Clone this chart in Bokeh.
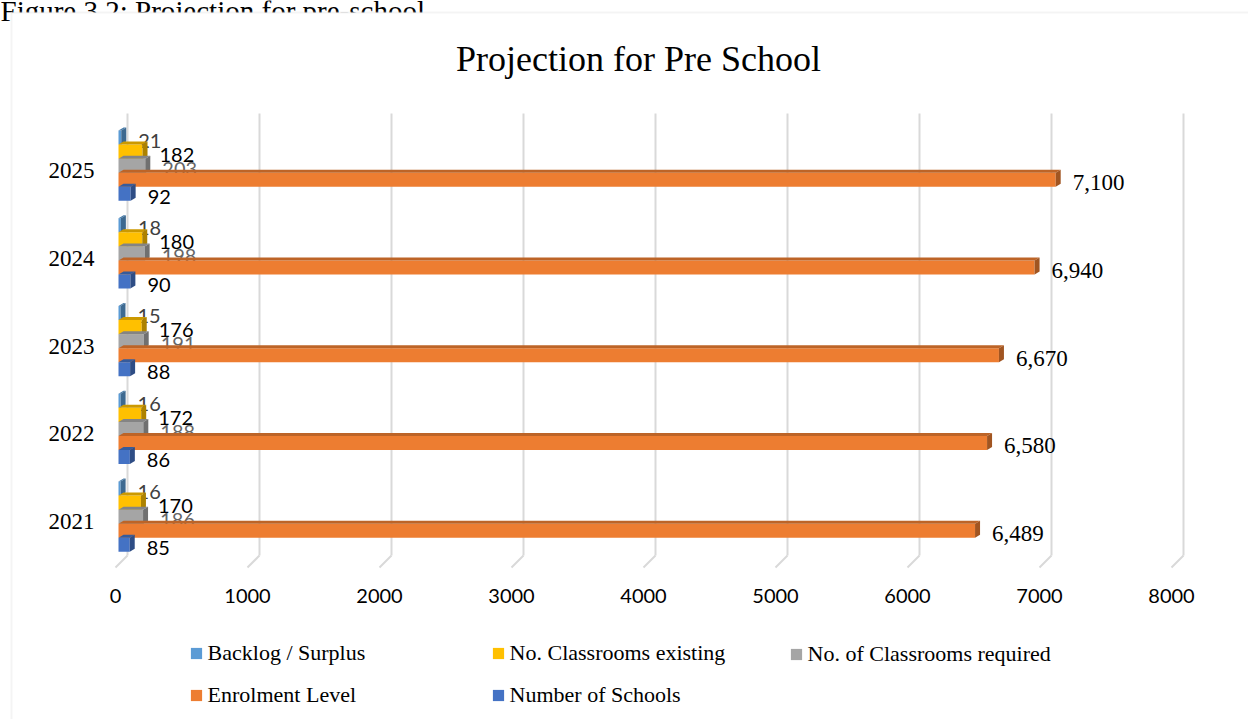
from bokeh.plotting import figure
from bokeh.models import (Range1d, LinearAxis, FixedTicker, ColumnDataSource, Legend,
                          LegendItem, Label, BoxAnnotation)
from bokeh.core.properties import value
from bokeh.embed import file_html
from bokeh.resources import INLINE

# ---------------- data ----------------
years = ["2021", "2022", "2023", "2024", "2025"]
backlog_surplus = [16, 16, 15, 18, 21]
classrooms_existing = [170, 172, 176, 180, 182]
classrooms_required = [186, 188, 191, 198, 203]
enrolment_level = [6489, 6580, 6670, 6940, 7100]
number_of_schools = [85, 86, 88, 90, 92]
x_ticks = [0, 1000, 2000, 3000, 4000, 5000, 6000, 7000, 8000]

# ---------------- geometry ----------------
W, H = 1248, 719
PX_X = 0.132      # px per unit on the value axis
PX_Y = 87.75      # px per category
BAR0_PX, FRONT0_PX, BACK0_PX = 118, 115, 127
CAT0_PX = 521     # pixel row of first category centre


def ypx(py):
    """canvas pixel row -> category-axis coordinate"""
    return (CAT0_PX - py) / PX_Y


def sy(py):
    """canvas pixel row -> screen units (from bottom of frame)"""
    return H - py


span = W / PX_X
p = figure(width=W, height=H, output_backend="svg", toolbar_location=None,
           x_range=Range1d(-BAR0_PX / PX_X, -BAR0_PX / PX_X + span),
           y_range=Range1d(ypx(H), ypx(0)),
           x_axis_location=None, y_axis_location=None,
           min_border=0, min_border_left=0, min_border_right=0,
           min_border_top=0, min_border_bottom=0)
p.title.visible = False
p.outline_line_color = None
p.background_fill_color = "white"
p.border_fill_color = "white"
p.xgrid.visible = False
p.ygrid.visible = False
p.extra_x_ranges = {"front": Range1d(-FRONT0_PX / PX_X, -FRONT0_PX / PX_X + span),
                    "back": Range1d(-BACK0_PX / PX_X, -BACK0_PX / PX_X + span)}

# caption (cut by top of page) and chart border
p.add_layout(Label(x=0, y=sy(10.7), x_units="screen", y_units="screen",
                   text="Figure 3.2: Projection for pre-school", text_font="Liberation Serif",
                   text_font_size="29px", text_color="black", text_baseline="alphabetic",
                   level="underlay"))
p.add_layout(BoxAnnotation(left=11, right=W + 20, top=sy(12), bottom=-40,
                           left_units="screen", right_units="screen",
                           top_units="screen", bottom_units="screen",
                           fill_color="white", fill_alpha=1, line_color="#D9D9D9",
                           line_width=2, level="underlay"))

# title
p.add_layout(Label(x=638, y=sy(58), x_units="screen", y_units="screen",
                   text="Projection for Pre School", text_font="Liberation Serif",
                   text_font_size="36px", text_color="black", text_align="center",
                   text_baseline="middle"))

# back wall gridlines + floor slants
WALL_TOP, WALL_BOT, FLOOR = ypx(113), ypx(555), ypx(567)
grid_c = "#D9D9D9"
n = len(x_ticks)
p.segment(x0=x_ticks, y0=[WALL_BOT] * n, x1=x_ticks, y1=[WALL_TOP] * n,
          x_range_name="back", line_color=grid_c, line_width=2)
p.segment(x0=x_ticks, y0=[WALL_BOT] * n,
          x1=[t - (BACK0_PX - FRONT0_PX) / PX_X for t in x_ticks], y1=[FLOOR] * n,
          x_range_name="back", line_color=grid_c, line_width=2)


def shade(hx, f):
    return "#%02x%02x%02x" % tuple(int(int(hx[i:i + 2], 16) * f) for i in (1, 3, 5))


idx = list(range(len(years)))
BAR_H = 0.16
DX = 5 / PX_X
DY = 3 / PX_Y

# drawn from top of each cluster down (lower bars overlap upper ones)
series = [
    ("Backlog / Surplus", backlog_surplus, "#5B9BD5", 0.375, "Lato", "20px", "#404040", False),
    ("No. Classrooms existing", classrooms_existing, "#FFC000", 0.215, "Lato", "20px", "#000000", False),
    ("No. of Classrooms required", classrooms_required, "#A5A5A5", 0.055, "Lato", "20px", "#666666", False),
    ("Enrolment Level", enrolment_level, "#ED7D31", -0.105, "Liberation Serif", "23px", "#000000", True),
    ("Number of Schools", number_of_schools, "#4472C4", -0.265, "Lato", "20px", "#000000", False),
]

renderers = {}
for name, vals, color, off, font, fsize, lcolor, comma in series:
    ys = [i + off for i in idx]
    src = ColumnDataSource(dict(y=ys, v=vals))
    r = p.hbar(y="y", right="v", left=0, height=BAR_H, source=src,
               fill_color=color, line_color=None)
    renderers[name] = r
    top_xs, top_ys, side_xs, side_ys = [], [], [], []
    for v, c in zip(vals, ys):
        lo, hi = c - BAR_H / 2, c + BAR_H / 2
        top_xs.append([0, v, v + DX, DX])
        top_ys.append([hi, hi, hi + DY, hi + DY])
        side_xs.append([v, v + DX, v + DX, v])
        side_ys.append([lo, lo + DY, hi + DY, hi])
    p.patches(xs=top_xs, ys=top_ys, fill_color=shade(color, 0.8), line_color=None)
    p.patches(xs=side_xs, ys=side_ys, fill_color=shade(color, 0.68), line_color=None)
    labels = [f"{v:,}" if comma else str(v) for v in vals]
    p.text(x=vals, y=ys, text=labels, x_offset=17, y_offset=3,
           text_font=value(font), text_font_size=fsize, text_color=lcolor,
           text_align="left", text_baseline="middle")

# axes (fixed inside the full-canvas frame)
xaxis = LinearAxis(x_range_name="front", ticker=FixedTicker(ticks=x_ticks),
                   fixed_location=ypx(580))
yaxis = LinearAxis(ticker=FixedTicker(ticks=idx),
                   major_label_overrides={i: y for i, y in zip(idx, years)},
                   fixed_location=(100 - BAR0_PX) / PX_X)
for ax in (xaxis, yaxis):
    ax.axis_line_color = None
    ax.major_tick_line_color = None
    ax.minor_tick_line_color = None
    ax.major_tick_out = 0
    ax.major_tick_in = 0
    ax.major_label_text_color = "#000000"
xaxis.major_label_text_font = "Lato"
xaxis.major_label_text_font_size = "20px"
xaxis.major_label_standoff = 8
yaxis.major_label_text_font = "Liberation Serif"
yaxis.major_label_text_font_size = "23px"
yaxis.major_label_standoff = 6
p.add_layout(xaxis, "below")
p.add_layout(yaxis, "left")

# legend: three columns
leg_cols = [
    (["Backlog / Surplus", "Enrolment Level"], 190),
    (["No. Classrooms existing", "Number of Schools"], 492),
    (["No. of Classrooms required"], 790),
]
ITEM_H = 25
ROW1_Y = 654
ROW_PITCH = 41
GLYPH = 14
for names, xpx in leg_cols:
    items = [LegendItem(label=nm, renderers=[renderers[nm]]) for nm in names]
    bottom_px = ROW1_Y + (len(names) - 1) * ROW_PITCH + ITEM_H / 2
    leg = Legend(items=items, location=(xpx - 0.1 * GLYPH, sy(bottom_px)),
                 glyph_width=GLYPH, glyph_height=GLYPH, label_standoff=5,
                 label_text_font="Liberation Serif", label_text_font_size="22px",
                 label_text_color="#000000", label_height=ITEM_H,
                 spacing=ROW_PITCH - ITEM_H, padding=0, margin=0,
                 background_fill_alpha=0, border_line_color=None)
    p.add_layout(leg)

open("out.html", "w").write(file_html(p, INLINE))
